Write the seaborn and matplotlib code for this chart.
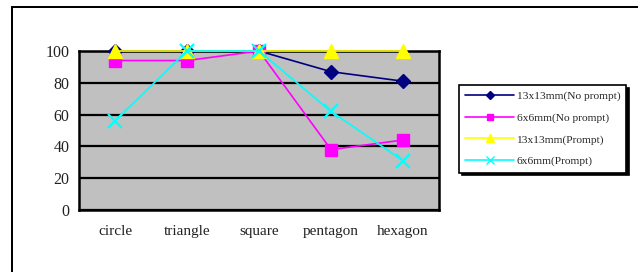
import pandas as pd
import matplotlib.pyplot as plt
import seaborn as sns
from matplotlib.lines import Line2D
from matplotlib.patches import Rectangle
from matplotlib.ticker import FixedLocator

shapes = ["circle", "triangle", "square", "pentagon", "hexagon"]
series = ["13x13mm(No prompt)", "6x6mm(No prompt)", "13x13mm(Prompt)", "6x6mm(Prompt)"]
big_no_prompt = [100, 100, 100, 87, 81]
small_no_prompt = [94, 94, 100, 38, 44]
big_prompt = [100, 100, 100, 100, 100]
small_prompt = [56, 100, 100, 62, 31]
yticks = [0, 20, 40, 60, 80, 100]

rows = []
for name, vals in zip(series, [big_no_prompt, small_no_prompt, big_prompt, small_prompt]):
    for s, v in zip(shapes, vals):
        rows.append({"shape": s, "series": name, "value": v})
df = pd.DataFrame(rows)

sns.set_style("white")
plt.rcParams['font.family'] = ['Liberation Serif', 'DejaVu Serif']

colors = {series[0]: "#000080", series[1]: "#FF00FF", series[2]: "#FFFF00", series[3]: "#00FFFF"}
markers = {series[0]: "D", series[1]: "s", series[2]: "^", series[3]: "x"}
msize = {series[0]: 7, series[1]: 8.5, series[2]: 10, series[3]: 9.5}

fig = plt.figure(figsize=(6.38, 2.72), dpi=100)
ax = fig.add_axes([79/638, 1-210/272, (439-79)/638, (210-51)/272])
ax.set_facecolor("#C0C0C0")

# one call per series: seaborn will not mix filled and line-art markers
for name in series:
    sub = df[df["series"] == name]
    sns.lineplot(data=sub, x="shape", y="value", color=colors[name], marker=markers[name],
                 markersize=msize[name], markeredgecolor=colors[name],
                 markeredgewidth=1.6 if name == series[3] else 1,
                 linewidth=1.2, ax=ax, sort=False, clip_on=False, zorder=3)

ax.set_xlim(-0.5, 4.5)
ax.set_ylim(0, 100)
ax.set_yticks(yticks)
ax.set_xticks(range(len(shapes)))
ax.set_xticklabels(shapes)
ax.xaxis.set_minor_locator(FixedLocator([0.5, 1.5, 2.5, 3.5]))
ax.tick_params(axis="x", which="major", length=0, pad=11, labelsize=11, colors="#222222")
ax.tick_params(axis="x", which="minor", direction="in", length=4, width=1.5, color="black")
ax.tick_params(axis="y", length=0, pad=7, labelsize=11.5, colors="#222222")
ax.grid(axis="y", color="black", linewidth=1.6)
ax.set_axisbelow(True)
ax.set_xlabel("")
ax.set_ylabel("")
for sp in ax.spines.values():
    sp.set_color("black")
    sp.set_linewidth(1.8)

# outer chart frame (only left and top edges fall inside the image), drawn as thin bars
fig.add_artist(Rectangle((11/638, 0), 2/638, 1-6/272, transform=fig.transFigure,
                         facecolor="black", linewidth=0))
fig.add_artist(Rectangle((11/638, 1-8/272), 1-11/638, 2/272, transform=fig.transFigure,
                         facecolor="black", linewidth=0))

handles = [Line2D([], [], color=colors[n], marker=markers[n], markersize=msize[n]*0.55,
                  markeredgecolor=colors[n], linewidth=1.2) for n in series]
leg = fig.legend(handles, series, loc="upper left", bbox_to_anchor=(459/638, 1-85/272),
                 bbox_transform=fig.transFigure, borderaxespad=0, fontsize=8.2,
                 handlelength=4.3, handletextpad=0.2, labelspacing=1.0, borderpad=0.55,
                 fancybox=False, shadow={"color": "black", "alpha": 1}, framealpha=1)
leg.get_frame().set_edgecolor("black")
leg.get_frame().set_linewidth(1.2)

fig.savefig("out.png", dpi=100)
